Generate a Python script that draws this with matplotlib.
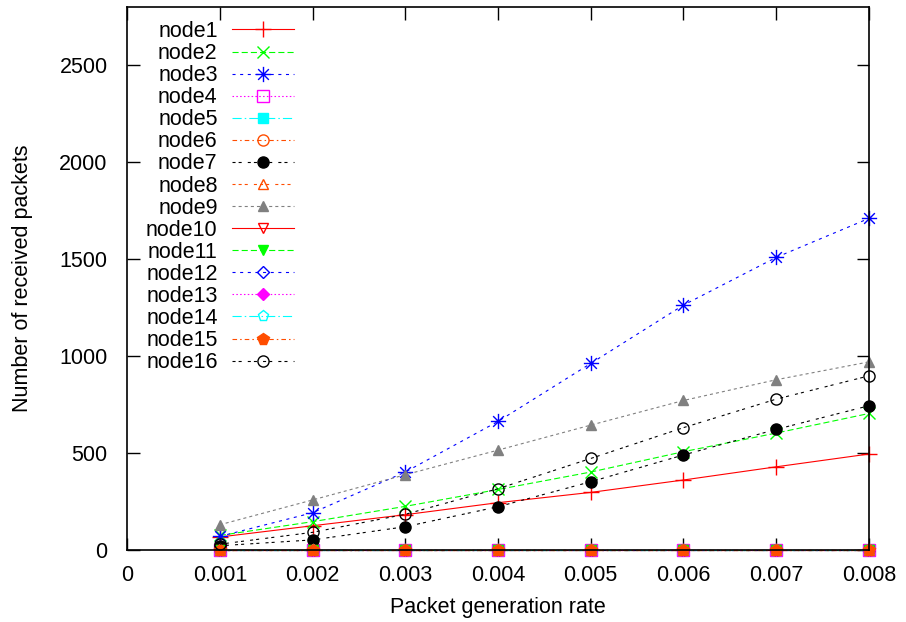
import matplotlib
matplotlib.use("Agg")
import matplotlib.pyplot as plt
from matplotlib.path import Path
import numpy as np

plt.rcParams['font.family'] = ['Liberation Sans', 'DejaVu Sans']
plt.rcParams['lines.scale_dashes'] = False

rates = [0.001, 0.002, 0.003, 0.004, 0.005, 0.006, 0.007, 0.008]
node_names = ["node%d" % i for i in range(1, 17)]

node1 = [67, 125, 182, 244, 297, 361, 429, 495]
node2 = [75, 146, 225, 312, 402, 507, 603, 704]
node3 = [70, 192, 402, 663, 962, 1263, 1509, 1710]
node4 = [0, 0, 0, 0, 0, 0, 0, 0]
node5 = [0, 0, 0, 0, 0, 0, 0, 0]
node6 = [0, 0, 0, 0, 0, 0, 0, 0]
node7 = [22, 52, 120, 223, 352, 490, 622, 744]
node8 = [0, 0, 0, 0, 0, 0, 0, 0]
node9 = [130, 258, 388, 515, 644, 771, 878, 970]
node10 = [0, 0, 0, 0, 0, 0, 0, 0]
node11 = [0, 0, 0, 0, 0, 0, 0, 0]
node12 = [0, 0, 0, 0, 0, 0, 0, 0]
node13 = [0, 0, 0, 0, 0, 0, 0, 0]
node14 = [0, 0, 0, 0, 0, 0, 0, 0]
node15 = [0, 0, 0, 0, 0, 0, 0, 0]
node16 = [30, 91, 184, 316, 472, 631, 778, 898]
series = [node1, node2, node3, node4, node5, node6, node7, node8,
          node9, node10, node11, node12, node13, node14, node15, node16]

xticks = [0, 0.001, 0.002, 0.003, 0.004, 0.005, 0.006, 0.007, 0.008]
xticklabels = ["0", "0.001", "0.002", "0.003", "0.004", "0.005", "0.006", "0.007", "0.008"]
yticks = [0, 500, 1000, 1500, 2000, 2500]

# asterisk marker (gnuplot point type 3)
a = 0.7
ast = Path([(-1, 0), (1, 0), (0, -1), (0, 1), (-a, -a), (a, a), (-a, a), (a, -a)],
           [Path.MOVETO, Path.LINETO] * 4)

orange = (1.0, 0.3, 0.0)
gray = (0.5, 0.5, 0.5)
u = 1.1
styles = [
    dict(color='red', ls='-', marker='+', ms=11, mfc='none'),
    dict(color=(0, 1, 0), ls=(0, (4*u, 2*u)), marker='x', ms=9, mfc='none'),
    dict(color='blue', ls=(0, (2*u, 3*u)), marker=ast, ms=11, mfc='none'),
    dict(color='magenta', ls=(0, (1*u, 1.5*u)), marker='s', ms=8, mfc='none'),
    dict(color='cyan', ls=(0, (6*u, 2*u, 1*u, 2*u)), marker='s', ms=7.5),
    dict(color=orange, ls=(0, (3*u, 2*u, 1*u, 2*u)), marker='o', ms=8, mfc='none'),
    dict(color='black', ls=(0, (2*u, 2*u, 2*u, 4*u)), marker='o', ms=8),
    dict(color=orange, ls=(0, (2*u, 2*u, 2*u, 2*u, 2*u, 4*u)), marker='^', ms=7.5, mfc='none'),
    dict(color=gray, ls=(0, (2*u, 2*u)), marker='^', ms=7.5),
    dict(color='red', ls='-', marker='v', ms=7.5, mfc='none'),
    dict(color=(0, 1, 0), ls=(0, (4*u, 2*u)), marker='v', ms=7),
    dict(color='blue', ls=(0, (2*u, 3*u)), marker='D', ms=6, mfc='none'),
    dict(color='magenta', ls=(0, (1*u, 1.5*u)), marker='D', ms=6),
    dict(color='cyan', ls=(0, (6*u, 2*u, 1*u, 2*u)), marker='p', ms=8, mfc='none'),
    dict(color=orange, ls=(0, (3*u, 2*u, 1*u, 2*u)), marker='p', ms=8.5),
    dict(color='black', ls=(0, (2*u, 2*u, 2*u, 4*u)), marker='o', ms=8, mfc='none'),
]

fig = plt.figure(figsize=(9.06, 6.22), dpi=100)
ax = fig.add_axes([127/906, 1-550/622, (869-127)/906, (550-7)/622])

for name, vals, st in zip(node_names, series, styles):
    st = dict(st)
    c = st.pop('color')
    mfc = st.pop('mfc', c)
    ax.plot(rates, vals, color=c, mec=c, mfc=mfc, lw=0.8, mew=1.0,
            clip_on=False, label=name, **st)

ax.set_xlim(0, 0.008)
ax.set_ylim(0, 2800)
ax.set_xticks(xticks)
ax.set_xticklabels(xticklabels)
ax.set_yticks(yticks)
ax.tick_params(direction='in', length=9, width=1, top=True, right=True,
               labelsize=15.5, colors='black')
ax.tick_params(axis='y', pad=14)
ax.tick_params(axis='x', pad=11)
for s in ax.spines.values():
    s.set_linewidth(1.2)

ax.set_xlabel("Packet generation rate", fontsize=15.5, labelpad=8)
ax.set_ylabel("Number of received packets", fontsize=15.5, labelpad=19)

leg = ax.legend(loc='upper left', bbox_to_anchor=(19/742, 1 - 14/543), markerfirst=False,
                frameon=False, fontsize=15.5, handlelength=2.9, handletextpad=0.65,
                labelspacing=0.05, borderaxespad=0.0, borderpad=0.0)

fig.savefig("out.png", dpi=100)
